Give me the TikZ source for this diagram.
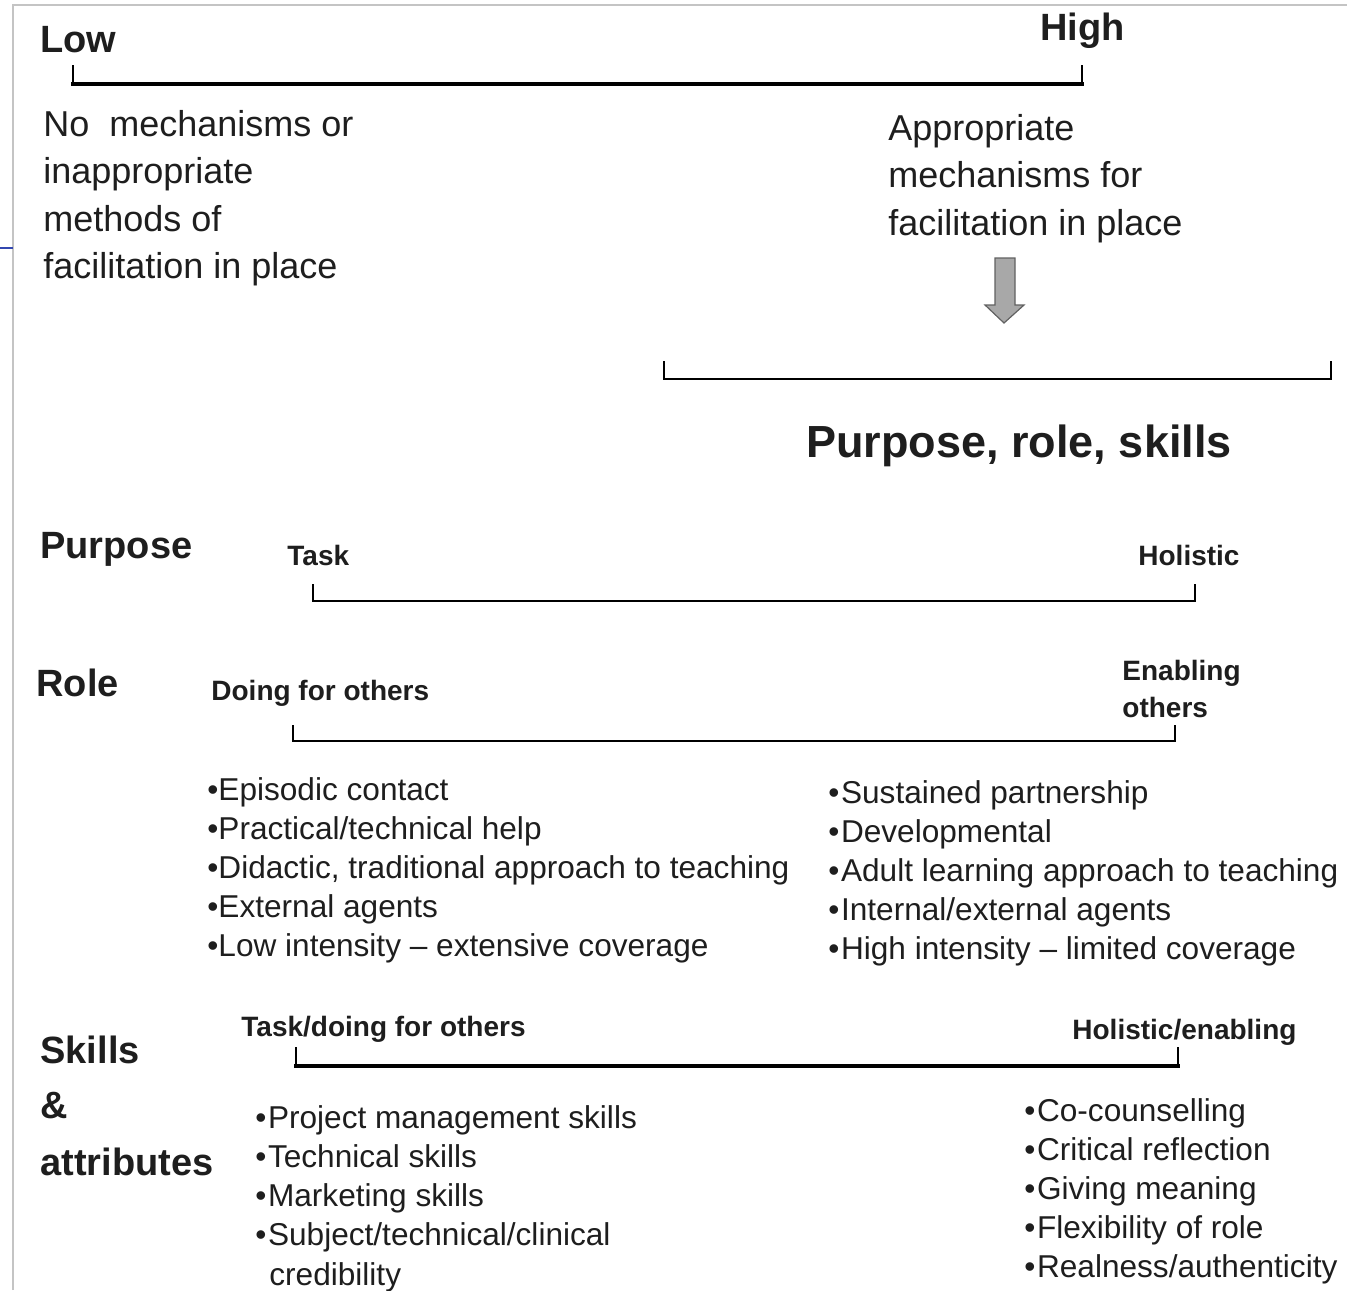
\documentclass[tikz,border=0pt]{standalone}
\usepackage{fontspec}
\setmainfont{Liberation Sans}
\definecolor{framegray}{HTML}{C4C4C4}
\definecolor{slideblue}{HTML}{3347B0}
\definecolor{arrowgray}{HTML}{A8A8A8}
\definecolor{inkgray}{HTML}{1E1E1E}
\tikzset{
  heading/.style={anchor=base west, inner sep=0pt, text=inkgray, font=\bfseries\fontsize{19pt}{23pt}\selectfont},
  endlabel/.style={anchor=base west, inner sep=0pt, text=inkgray, font=\bfseries\fontsize{14pt}{17pt}\selectfont},
  mechtext/.style={anchor=base west, inner sep=0pt, text=inkgray, font=\fontsize{18pt}{22pt}\selectfont},
  itemtext/.style={anchor=base west, inner sep=0pt, text=inkgray, font=\fontsize{15.8pt}{19pt}\selectfont},
  barline/.style={black, line cap=rect},
}
\begin{document}
\begin{tikzpicture}[x=0.5pt, y=-0.5pt]
  \useasboundingbox (0,0) rectangle (1347,1290);
  % slide frame
  \draw[framegray, line width=0.8pt] (13,1290) -- (13,5) -- (1347,5);
  \draw[slideblue, line width=0.8pt] (0,248) -- (13,248);

  % the scales: left x / right x / y / width / tick
  \foreach \xa/\xb/\yy/\w/\tk [count=\i] in {73/1082/84/2.4pt/18, 664/1331/379/1pt/17, 313/1195/601/1.4pt/16, 293/1175/741/1.4pt/15, 296/1178/1066/2.4pt/18} {
    \coordinate (bar\i-a) at (\xa,\yy);
    \coordinate (bar\i-b) at (\xb,\yy);
    \draw[barline, line width=\w] (bar\i-a) -- (bar\i-b);
    \draw[barline, line width=0.9pt] (bar\i-a) -- ++(0,-\tk) (bar\i-b) -- ++(0,-\tk);
  }

  \node[heading] (low) at (40,52) {Low};
  \node[heading] (high) at (1040,40) {High};
  \foreach \t [count=\i] in {No~~mechanisms or, inappropriate, methods of, facilitation in place}
    \node[mechtext] (nomech-\i) at (43,{136+47.5*(\i-1)}) {\t};
  \foreach \t [count=\i] in {Appropriate, mechanisms for, facilitation in place}
    \node[mechtext] (apmech-\i) at (888,{140+47.5*(\i-1)}) {\t};

  % block arrow
  \draw[inkgray!70, fill=arrowgray, line width=0.6pt]
    (995,258) -- (1015,258) -- (1015,305) -- (1024,305) --
    (1004,323) -- (985,305) -- (995,305) -- cycle;

  \node[heading, font=\bfseries\fontsize{22.5pt}{27pt}\selectfont] (prs) at (806,457) {Purpose, role, skills};

  \node[heading] (purpose) at (40,558) {Purpose};
  \node[endlabel] (task) at (287,565) {Task};
  \node[endlabel] (holistic) at (1138,565) {Holistic};

  \node[heading] (role) at (36,696) {Role};
  \node[endlabel] (doing) at (211,700) {Doing for others};
  \node[endlabel] (enabling) at (1122,680) {Enabling};
  \node[endlabel] (enabling-2) at (1122,717) {others};

  \foreach \t [count=\i] in {Episodic contact, Practical/technical help, {Didactic, traditional approach to teaching}, External agents, Low intensity -- extensive coverage}
    \node[itemtext] (doing-\i) at (207,{800+39*(\i-1)}) {\textbullet\t};
  \foreach \t [count=\i] in {Sustained partnership, Developmental, Adult learning approach to teaching, Internal/external agents, High intensity -- limited coverage}
    \node[itemtext] (enab-\i) at (828,{803+39*(\i-1)}) {\textbullet\kern0.8pt\t};

  \node[heading] (skills) at (40,1063) {Skills};
  \node[heading] (amp) at (40,1118) {\&};
  \node[heading] (attr) at (40,1175) {attributes};
  \node[endlabel] (taskdoing) at (241,1036) {Task/doing for others};
  \node[endlabel] (holen) at (1072,1039) {Holistic/enabling};

  \foreach \t [count=\i] in {Project management skills, Technical skills, Marketing skills, Subject/technical/clinical}
    \node[itemtext] (skl-\i) at (255,{1128+39.2*(\i-1)}) {\textbullet\kern0.8pt\t};
  \node[itemtext] (skl-5) at (269,1285) {credibility};
  \foreach \t [count=\i] in {Co-counselling, Critical reflection, Giving meaning, Flexibility of role, Realness/authenticity}
    \node[itemtext] (skr-\i) at (1024,{1121+39.2*(\i-1)}) {\textbullet\kern0.8pt\t};
\end{tikzpicture}
\end{document}
